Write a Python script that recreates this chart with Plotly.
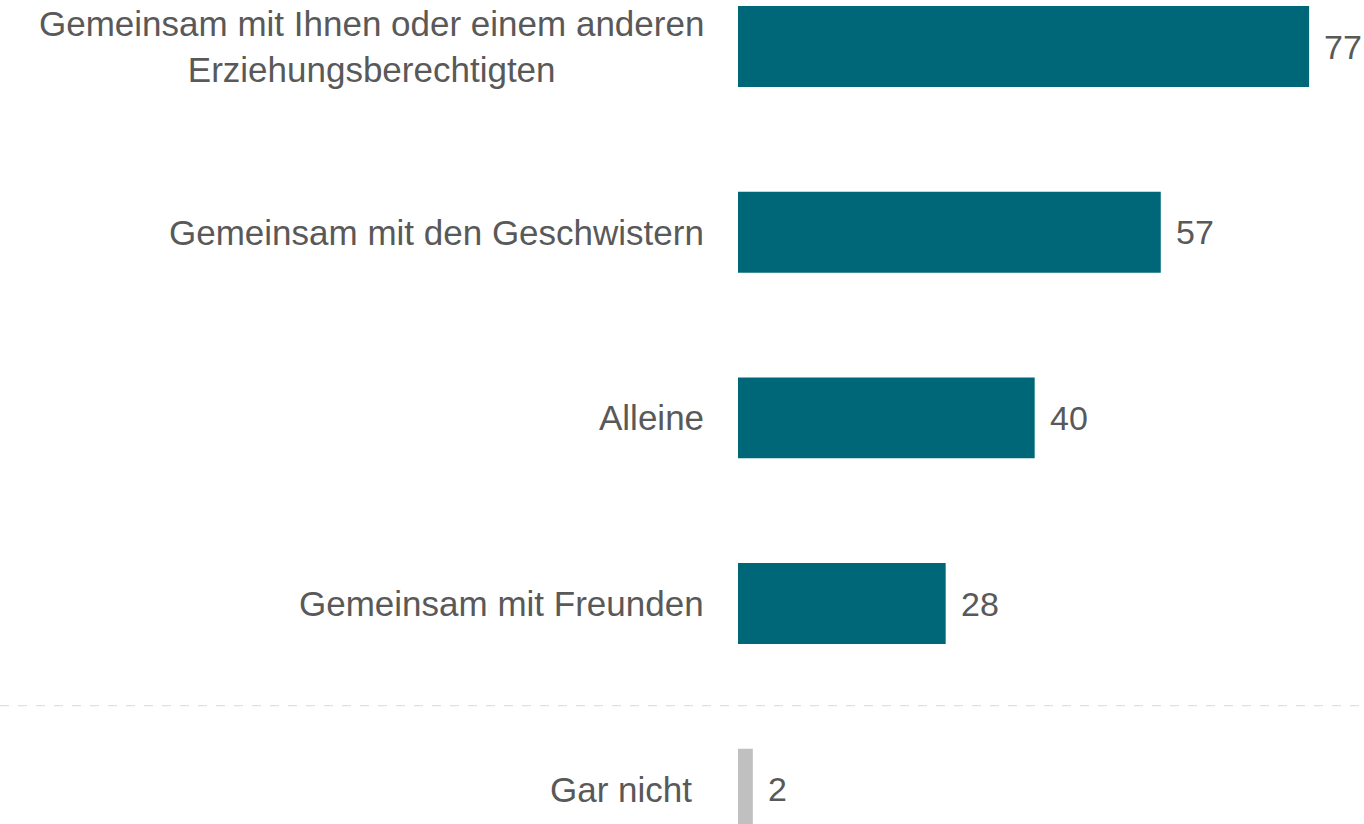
import plotly.graph_objects as go

categories = [
    "Gemeinsam mit Ihnen oder einem anderen<br>Erziehungsberechtigten",
    "Gemeinsam mit den Geschwistern",
    "Alleine",
    "Gemeinsam mit Freunden",
    "Gar nicht",
]
values = [77, 57, 40, 28, 2]
bar_colors = ["#006778", "#006778", "#006778", "#006778", "#C0C0C0"]
label_shift = [-32, -32, -32, -32, -44]

TEXT = "#595959"
FONT = "Liberation Sans, Arial, sans-serif"

ypos = list(range(len(categories)))

fig = go.Figure()
fig.add_trace(go.Bar(
    x=values, y=ypos, orientation="h",
    marker=dict(color=bar_colors, line=dict(width=0)),
    width=0.436, hoverinfo="skip",
))

annotations = []
for i, (c, v) in enumerate(zip(categories, values)):
    annotations.append(dict(
        x=0, y=i, xref="x", yref="y", text=c, showarrow=False,
        xanchor="right", yanchor="middle", align="center", xshift=label_shift[i],
        font=dict(family=FONT, size=35, color=TEXT),
    ))
    annotations.append(dict(
        x=v, y=i, xref="x", yref="y", text=str(v), showarrow=False,
        xanchor="left", yanchor="middle", xshift=13,
        font=dict(family=FONT, size=34, color=TEXT),
    ))

fig.update_layout(
    width=1364, height=824,
    margin=dict(l=738, r=0, t=0, b=0),
    paper_bgcolor="white", plot_bgcolor="white",
    showlegend=False,
    xaxis=dict(range=[0, 84.4], visible=False, fixedrange=True),
    yaxis=dict(range=[4.187, -0.2504], visible=False, fixedrange=True),
    annotations=annotations,
    shapes=[dict(
        type="line", xref="paper", yref="y", x0=-738/626, x1=1,
        y0=3.55, y1=3.55,
        line=dict(color="#D9D9D9", width=1, dash="dash"),
    )],
)

fig.write_html(
    "out.html",
    config={"displayModeBar": False},
    post_script="document.body.style.margin='0';document.body.style.overflow='hidden';",
)
